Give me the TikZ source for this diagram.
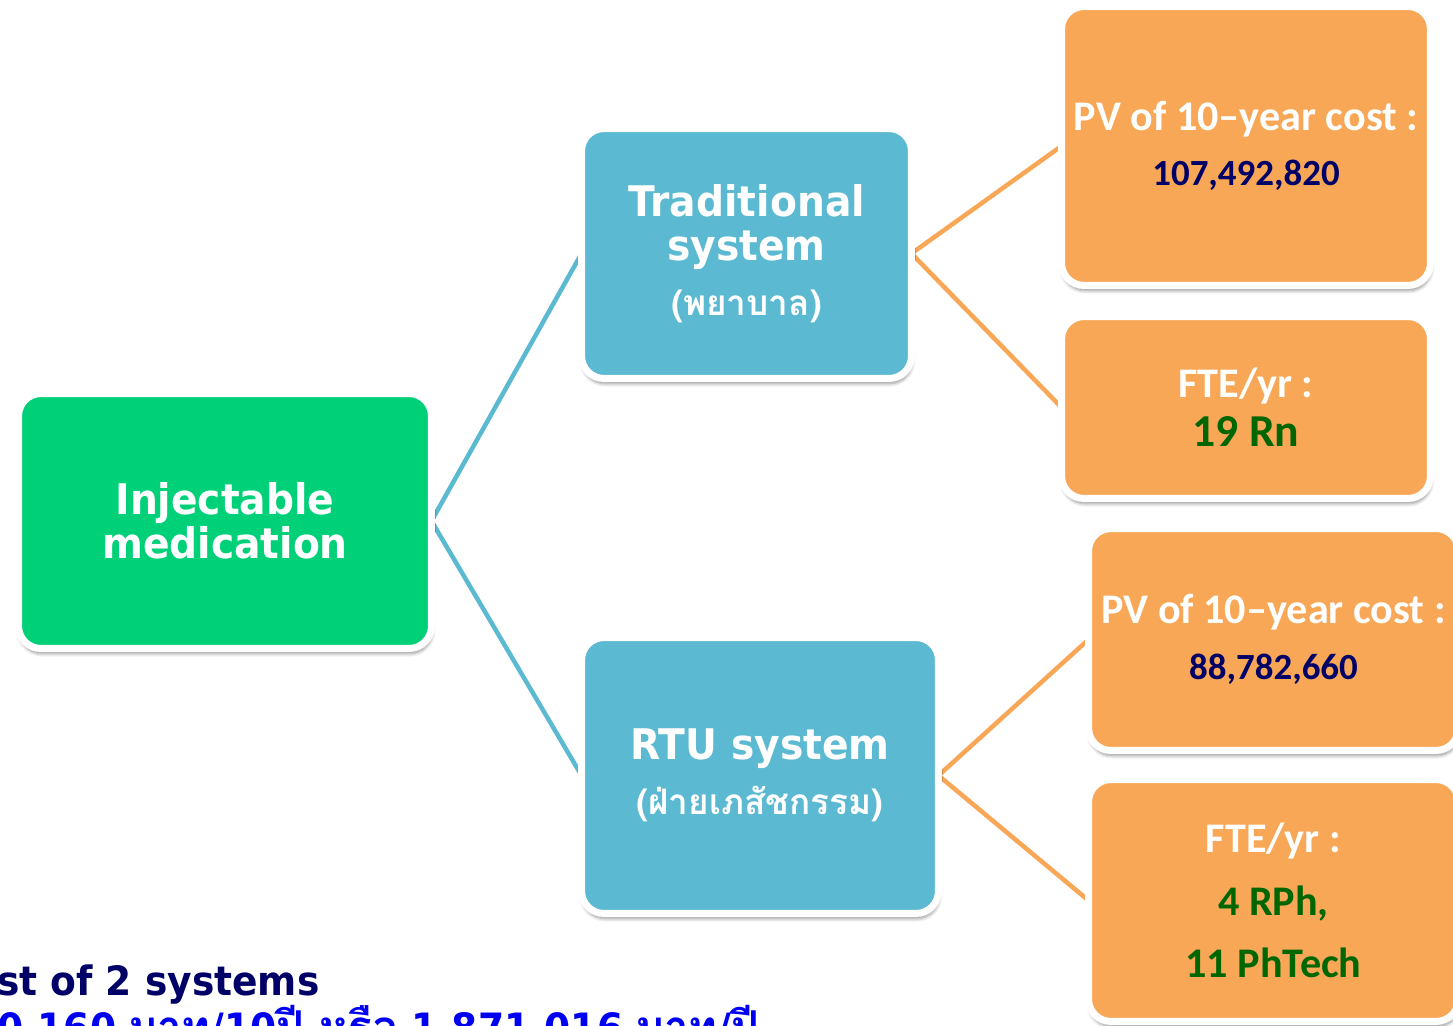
\documentclass[tikz,border=0pt]{standalone}
\usepackage{fontspec}
\setmainfont{Carlito}
\newfontfamily\tahoma[FakeStretch=0.93]{DejaVu Sans}
\newfontfamily\thaifont[Script=Thai]{Loma}
\usetikzlibrary{shadows,shadows.blur,backgrounds}
\definecolor{rootgreen}{RGB}{0,208,120}
\definecolor{sysblue}{RGB}{91,185,209}
\definecolor{costorange}{RGB}{248,167,87}
\definecolor{numnavy}{RGB}{0,0,102}
\definecolor{ftegreen}{RGB}{0,102,0}
\definecolor{sumblue}{RGB}{0,0,240}

\begin{document}
\begin{tikzpicture}[x=0.02cm, y=-0.02cm,
    box/.style={rectangle, rounded corners=0.45cm, draw=white, line width=0.14cm,
        inner sep=0pt, outer sep=0pt, align=center, text=white,
        blur shadow={shadow xshift=0.5pt, shadow yshift=-3pt, shadow blur steps=6, shadow opacity=40}},
    rootbox/.style={box, fill=rootgreen, font={\tahoma\bfseries\fontsize{24}{25}\selectfont}},
    sysbox/.style={box, fill=sysblue, font={\tahoma\bfseries\fontsize{24}{25.5}\selectfont}},
    costbox/.style={box, fill=costorange, font={\bfseries\fontsize{24}{28}\selectfont}},
    blueline/.style={draw=sysblue, line width=0.09cm},
    orangeline/.style={draw=costorange, line width=0.09cm}]
  \useasboundingbox (0,0) rectangle (1453,1026);
  \clip (0,0) rectangle (1453,1026);

  \node[rootbox, minimum width=8.26cm, minimum height=5.1cm] (root) at (225,521) {Injectable\\medication};
  \node[sysbox, minimum width=6.6cm, minimum height=5cm] (trad) at (746.5,253.5)
      {Traditional\\system\\[5.7pt]{\thaifont\bfseries\fontsize{20}{24}\selectfont (พยาบาล)}};
  \node[sysbox, minimum width=7.14cm, minimum height=5.52cm] (rtu) at (760,775.5)
      {RTU system\\[5.7pt]{\thaifont\bfseries\fontsize{20}{24}\selectfont (ฝ่ายเภสัชกรรม)}};

  \node[costbox, minimum width=7.38cm, minimum height=5.58cm] (tradcost) at (1246,146)
      {PV of 10–year cost :\\[3.7pt]{\color{numnavy}\fontsize{21}{24}\selectfont 107,492,820}};
  \node[costbox, minimum width=7.38cm, minimum height=3.64cm] (tradfte) at (1246,407.5)
      {FTE/yr :\\{\color{ftegreen}\fontsize{26}{28}\selectfont 19 Rn}};
  \node[costbox, minimum width=7.4cm, minimum height=4.44cm] (rtucost) at (1273.5,639.5)
      {PV of 10–year cost :\\[3.7pt]{\color{numnavy}\fontsize{21}{24}\selectfont 88,782,660}};
  \node[costbox, minimum width=7.4cm, minimum height=4.84cm] (rtufte) at (1273.5,900.5)
      {FTE/yr :\\[7.7pt]{\color{ftegreen}4 RPh,}\\[7.7pt]{\color{ftegreen}11 PhTech}};

  \begin{scope}[on background layer]
    \foreach \b in {trad,rtu}
      \draw[blueline] (root.east) -- (\b.west);
    \foreach \a/\b in {trad/tradcost,trad/tradfte,rtu/rtucost,rtu/rtufte}
      \draw[orangeline] (\a.east) -- (\b.west);
  \end{scope}

  \node[anchor=base west, inner sep=0pt, text=numnavy, font={\tahoma\bfseries\fontsize{23}{24}\selectfont}]
      (sumtitle) at (-3,995) {st of 2 systems};
  \node[anchor=base west, inner sep=0pt, text=sumblue, font={\tahoma\bfseries\fontsize{23}{24}\selectfont}]
      (sumvalue) at (-3,1042) {0,160 {\thaifont\bfseries\fontsize{25}{24}\selectfont บาท}/10{\thaifont\bfseries\fontsize{25}{24}\selectfont ปี หรือ} 1,871,016 {\thaifont\bfseries\fontsize{25}{24}\selectfont บาท}/{\thaifont\bfseries\fontsize{25}{24}\selectfont ปี}};
\end{tikzpicture}
\end{document}
